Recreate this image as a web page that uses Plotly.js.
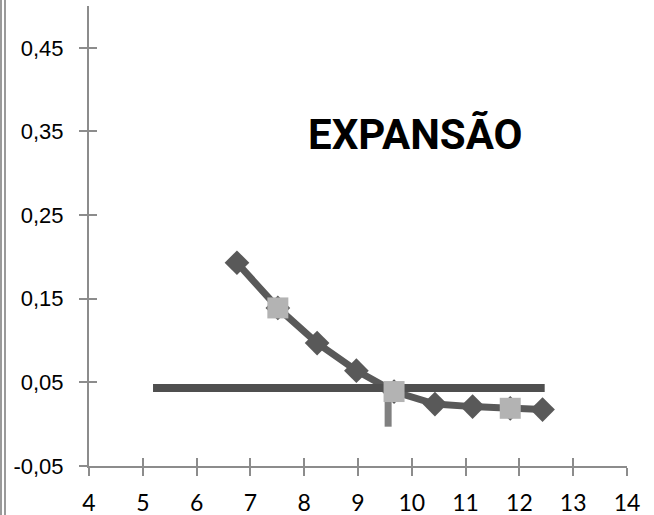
<!DOCTYPE html>
<html>
<head>
<meta charset="utf-8">
<script src="https://cdn.plot.ly/plotly-3.0.1.min.js"></script>
<style>
html,body{margin:0;padding:0;background:#fff;}
#chart{width:654px;height:515px;}
</style>
</head>
<body>
<div id="chart"></div>
<script>
// Data
const darkX = [6.75, 7.51, 8.24, 8.97, 9.67, 10.43, 11.13, 11.83, 12.43];
const darkY = [0.193, 0.139, 0.097, 0.064, 0.039, 0.024, 0.021, 0.019, 0.0175];
const lightX = [7.51, 9.67, 11.83];
const lightY = [0.139, 0.039, 0.019];
const hLineX = [5.19, 12.47];
const hLineY = [0.0434, 0.0434];
const vLineX = [9.56, 9.56];
const vLineY = [-0.003, 0.0434];
const xTickVals = [4, 5, 6, 7, 8, 9, 10, 11, 12, 13, 14];
const xTickText = ['4', '5', '6', '7', '8', '9', '10', '11', '12', '13', '14'];
const yTickVals = [-0.05, 0.05, 0.15, 0.25, 0.35, 0.45];
const yTickText = ['-0,05', '0,05', '0,15', '0,25', '0,35', '0,45'];
const chartTitle = 'EXPANSÃO';

const traces = [
  {x: darkX, y: darkY, mode: 'lines+markers', type: 'scatter',
   line: {color: '#595959', width: 7},
   marker: {symbol: 'diamond', size: 19, color: '#595959'}, hoverinfo: 'skip'},
  {x: vLineX, y: vLineY, mode: 'lines', type: 'scatter',
   line: {color: '#808080', width: 7}, hoverinfo: 'skip'},
  {x: hLineX, y: hLineY, mode: 'lines', type: 'scatter',
   line: {color: '#4f4f4f', width: 8}, hoverinfo: 'skip'},
  {x: lightX, y: lightY, mode: 'markers', type: 'scatter',
   marker: {symbol: 'square', size: 21, color: '#b3b3b3'}, hoverinfo: 'skip'},
  {x: [], y: [], xaxis: 'x2', yaxis: 'y2', type: 'scatter', mode: 'markers', hoverinfo: 'skip'}
];

const axisCommon = {
  showgrid: false, zeroline: false, showline: true,
  linecolor: '#8c8c8c', linewidth: 2,
  tickcolor: '#8c8c8c', tickwidth: 2, ticklen: 8
};

const layout = {
  width: 654, height: 515,
  margin: {l: 89, r: 27, t: 6, b: 49},
  paper_bgcolor: '#fff', plot_bgcolor: '#fff',
  showlegend: false,
  xaxis: Object.assign({}, axisCommon, {
    range: [4, 14], tickmode: 'array', tickvals: xTickVals, ticktext: xTickText,
    ticks: 'outside', ticklabelstandoff: 7,
    tickfont: {family: 'Lato', size: 23, color: '#000'}
  }),
  yaxis: Object.assign({}, axisCommon, {
    range: [-0.05, 0.5], tickmode: 'array', tickvals: yTickVals, ticktext: yTickText,
    ticks: 'outside', ticklabelstandoff: 11,
    tickfont: {family: 'Liberation Sans', size: 22, color: '#000'}
  }),
  xaxis2: Object.assign({}, axisCommon, {
    range: [4, 14], overlaying: 'x', anchor: 'y2', side: 'bottom',
    tickmode: 'array', tickvals: xTickVals, ticks: 'inside', showticklabels: false
  }),
  yaxis2: Object.assign({}, axisCommon, {
    range: [-0.05, 0.5], overlaying: 'y', anchor: 'x2', side: 'left',
    tickmode: 'array', tickvals: yTickVals, ticks: 'inside', showticklabels: false
  }),
  annotations: [{
    text: '<b>' + chartTitle + '</b>', x: 10.06, y: 0.346, xref: 'x', yref: 'y',
    showarrow: false, xanchor: 'center', yanchor: 'middle',
    font: {family: 'Roboto', size: 42, color: '#000'}
  }],
  shapes: [
    {type: 'line', xref: 'paper', yref: 'paper', x0: -0.16357, x1: -0.16357, y0: -0.11, y1: 1.02,
     line: {color: '#9a9a9a', width: 2}},
    {type: 'line', xref: 'paper', yref: 'paper', x0: -0.15613, x1: -0.15613, y0: -0.11, y1: 1.02,
     line: {color: '#9a9a9a', width: 2}}
  ]
};

Plotly.newPlot('chart', traces, layout, {staticPlot: true, displayModeBar: false});
</script>
</body>
</html>
